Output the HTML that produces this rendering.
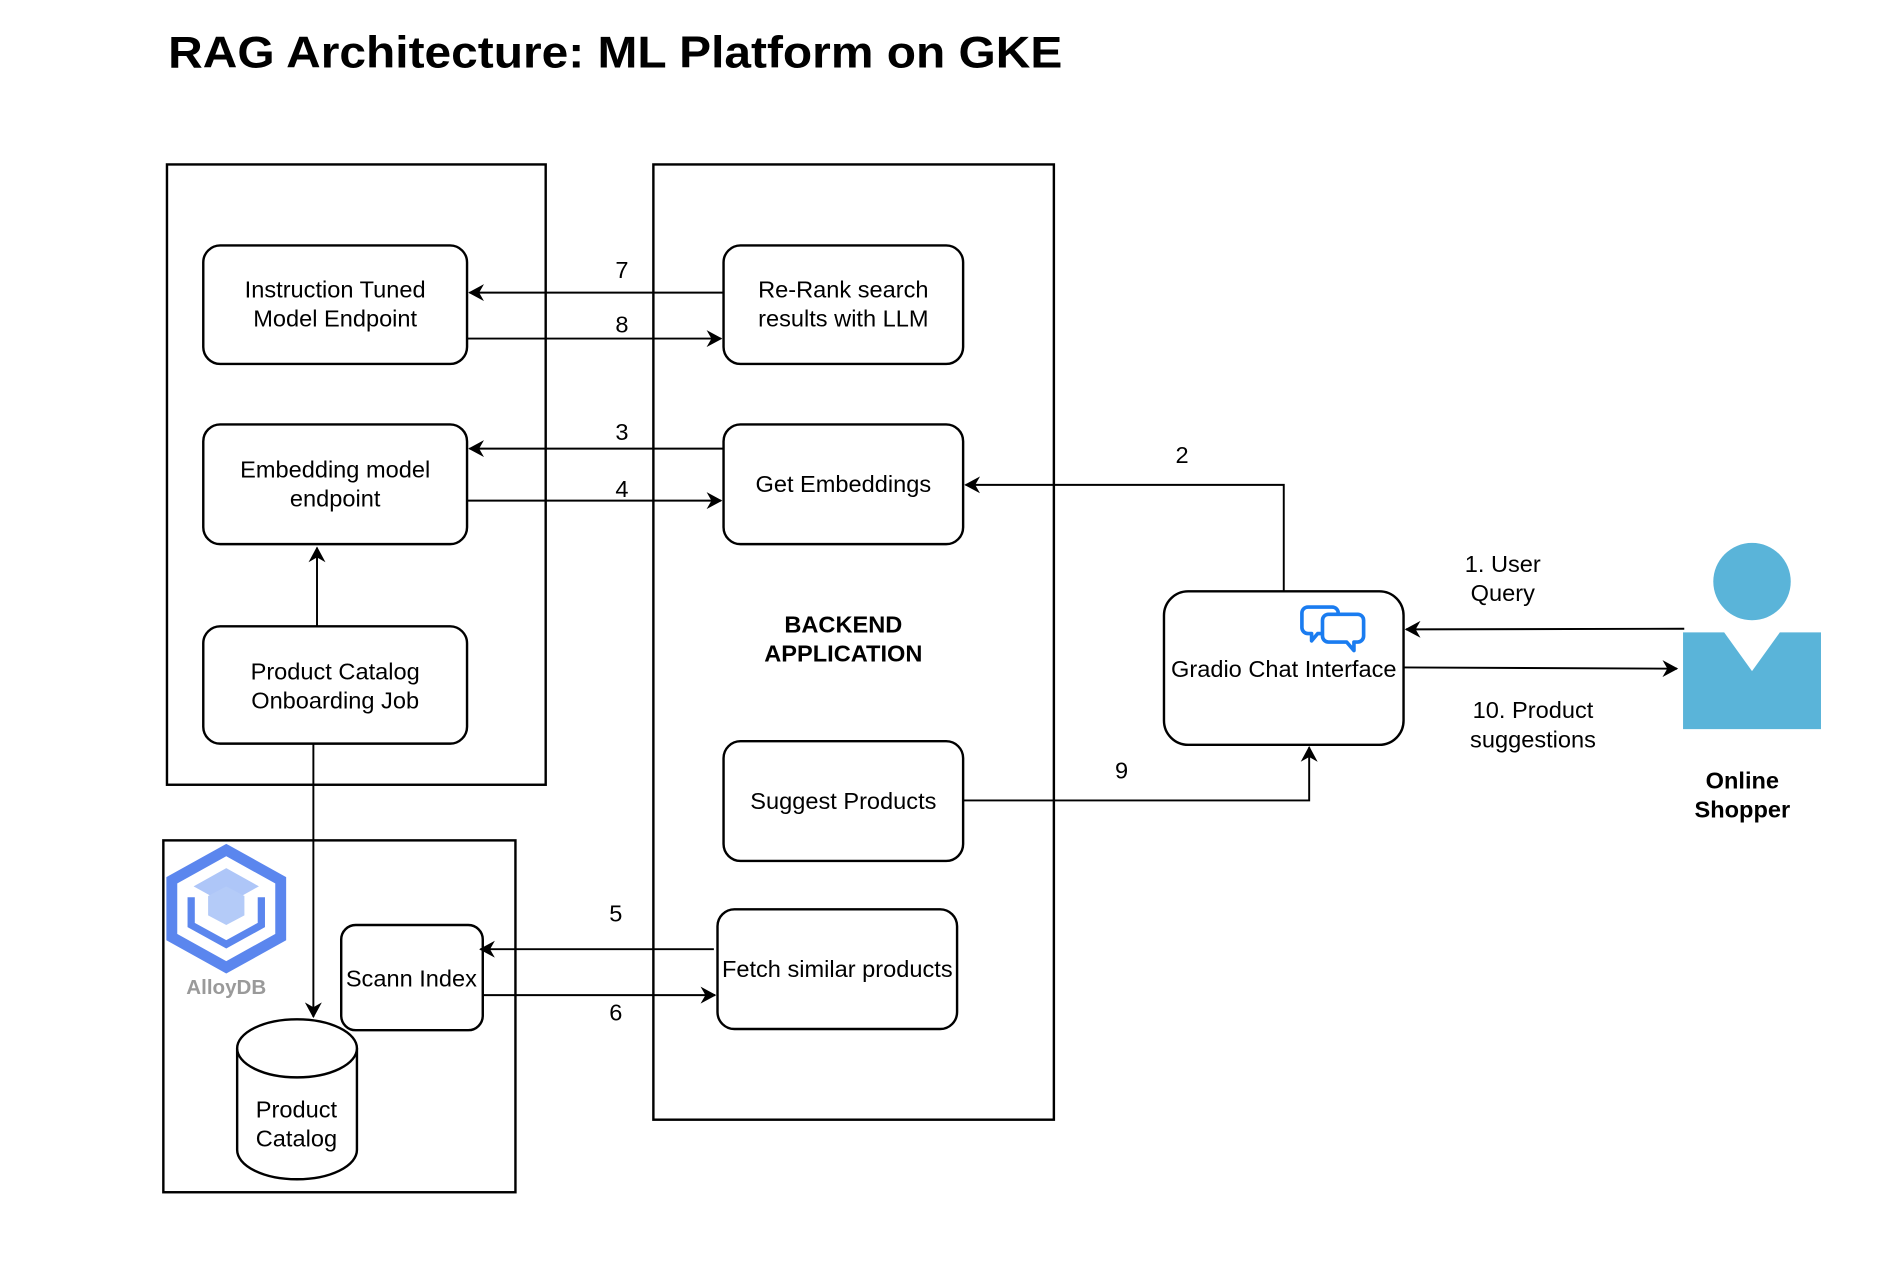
<!DOCTYPE html>
<html><head><meta charset="utf-8"><style>
html,body{margin:0;padding:0;background:#fff;}
svg{display:block;}
text{font-family:"Liberation Sans",Arial,sans-serif;fill:#000;}
</style></head><body>
<svg width="1896" height="1266" viewBox="0 0 1567 1047" preserveAspectRatio="none" xmlns="http://www.w3.org/2000/svg">
<defs>
<marker id="a" markerWidth="14" markerHeight="14" refX="12" refY="7" orient="auto" markerUnits="userSpaceOnUse">
<path d="M0,0 L13,7 L0,14 L4,7 Z" fill="#000"/>
</marker>
</defs>
<rect width="1567" height="1047" fill="#fff"/>
<text x="139" y="56" font-size="37" font-weight="bold" textLength="739" lengthAdjust="spacingAndGlyphs">RAG Architecture: ML Platform on GKE</text>

<g fill="none" stroke="#000" stroke-width="2">
<rect x="138" y="136" width="313" height="513"/>
<rect x="540" y="136" width="331" height="790"/>
<rect x="135" y="695" width="291" height="291"/>
<rect x="168" y="203" width="218" height="98" rx="14" fill="#fff"/>
<rect x="598" y="203" width="198" height="98" rx="14" fill="#fff"/>
<rect x="168" y="351" width="218" height="99" rx="14" fill="#fff"/>
<rect x="598" y="351" width="198" height="99" rx="14" fill="#fff"/>
<rect x="168" y="518" width="218" height="97" rx="14" fill="#fff"/>
<rect x="598" y="613" width="198" height="99" rx="14" fill="#fff"/>
<rect x="593" y="752" width="198" height="99" rx="14" fill="#fff"/>
<rect x="282" y="765" width="117" height="87" rx="12" fill="#fff"/>
<rect x="962" y="489" width="198" height="127" rx="20" fill="#fff"/>
<path d="M196,867 L196,951 A49,24 0 0 0 295,951 L295,867" fill="#fff"/>
<ellipse cx="245.5" cy="867" rx="49.5" ry="24" fill="#fff"/>
</g>

<g fill="none" stroke="#000" stroke-width="1.6">
<line x1="598" y1="242" x2="388" y2="242" marker-end="url(#a)"/>
<line x1="386" y1="280" x2="596" y2="280" marker-end="url(#a)"/>
<line x1="598" y1="371" x2="388" y2="371" marker-end="url(#a)"/>
<line x1="386" y1="414" x2="596" y2="414" marker-end="url(#a)"/>
<line x1="262" y1="518" x2="262" y2="453" marker-end="url(#a)"/>
<line x1="259" y1="615" x2="259" y2="841" marker-end="url(#a)"/>
<line x1="590" y1="785" x2="397" y2="785" marker-end="url(#a)"/>
<line x1="399" y1="823" x2="591" y2="823" marker-end="url(#a)"/>
<polyline points="796,662 1082,662 1082,618" marker-end="url(#a)"/>
<polyline points="1061,489 1061,401 798,401" marker-end="url(#a)"/>
<line x1="1392" y1="520" x2="1162" y2="520.5" marker-end="url(#a)"/>
<line x1="1160" y1="552" x2="1386" y2="553" marker-end="url(#a)"/>
</g>

<!-- person -->
<g fill="#5ab4d9">
<ellipse cx="1448" cy="481" rx="32" ry="32"/>
<path d="M1391,523 L1425,523 L1448,555 L1471,523 L1505,523 L1505,603 L1391,603 Z"/>
</g>

<!-- chat icon -->
<g fill="#fff" stroke="#1a7cf0" stroke-width="3" stroke-linejoin="round">
<path d="M1081,502 h20 a5,5 0 0 1 5,5 v12 a5,5 0 0 1 -5,5 h-12 l-5,6 v-6 h-3 a5,5 0 0 1 -5,-5 v-12 a5,5 0 0 1 5,-5z"/>
<path d="M1098,508 h24 a5,5 0 0 1 5,5 v13 a5,5 0 0 1 -5,5 h-3 v7 l-6,-7 h-15 a5,5 0 0 1 -5,-5 v-13 a5,5 0 0 1 5,-5z"/>
</g>

<!-- AlloyDB icon -->
<g>
<path d="M187,703 L232,728 L232,775 L187,800 L142,775 L142,728 Z" fill="none" stroke="#5b86ee" stroke-width="9"/>
<path d="M187,718 L214,733 L187,748 L160,733 Z" fill="#aec6f8"/>
<path d="M187,733 L202,741 L202,757 L187,765 L172,757 L172,741 Z" fill="#b4cbf8"/>
<path d="M158,742 L158,765 L187,781 L216,765 L216,742" fill="none" stroke="#5b86ee" stroke-width="6"/>
</g>
<text x="187" y="822" font-size="17" font-weight="bold" fill="#9a9a9a" style="fill:#9a9a9a" text-anchor="middle">AlloyDB</text>

<g font-size="19.5" text-anchor="middle">
<text x="277" y="246">Instruction Tuned</text>
<text x="277" y="270">Model Endpoint</text>
<text x="697" y="246">Re-Rank search</text>
<text x="697" y="270">results with LLM</text>
<text x="277" y="395">Embedding model</text>
<text x="277" y="419">endpoint</text>
<text x="697" y="407">Get Embeddings</text>
<text x="277" y="562">Product Catalog</text>
<text x="277" y="586">Onboarding Job</text>
<text x="697" y="669">Suggest Products</text>
<text x="692" y="808">Fetch similar products</text>
<text x="340" y="816">Scann Index</text>
<text x="245" y="924">Product</text>
<text x="245" y="948">Catalog</text>
<text x="1061" y="560">Gradio Chat Interface</text>
<text x="514" y="230">7</text>
<text x="514" y="275">8</text>
<text x="514" y="364">3</text>
<text x="514" y="411">4</text>
<text x="509" y="762">5</text>
<text x="509" y="844">6</text>
<text x="977" y="383">2</text>
<text x="927" y="644">9</text>
<text x="1242" y="473">1. User</text>
<text x="1242" y="497">Query</text>
<text x="1267" y="594">10. Product</text>
<text x="1267" y="618">suggestions</text>
</g>
<g font-size="19.5" font-weight="bold" text-anchor="middle">
<text x="697" y="523">BACKEND</text>
<text x="697" y="547">APPLICATION</text>
<text x="1440" y="652">Online</text>
<text x="1440" y="676">Shopper</text>
</g>
</svg>
</body></html>
